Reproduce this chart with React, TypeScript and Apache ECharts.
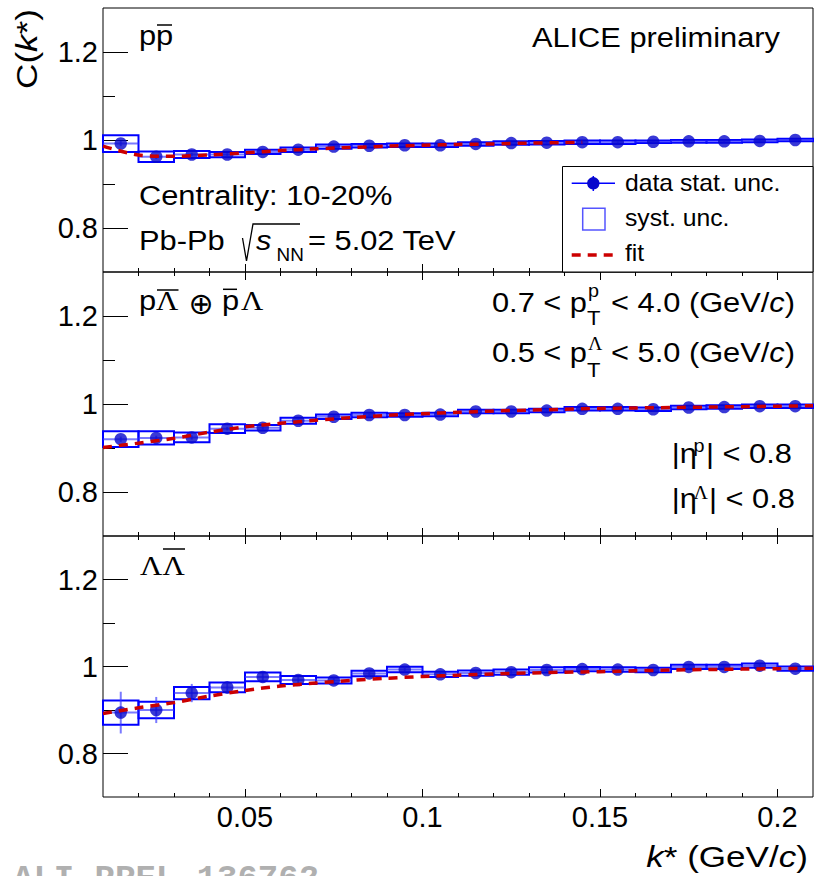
import React, { useEffect, useRef } from "react";
import * as echarts from "echarts";

// ---------------- data ----------------
const kCenters = [0.015, 0.025, 0.035, 0.045, 0.055, 0.065, 0.075, 0.085, 0.095, 0.105, 0.115, 0.125, 0.135, 0.145, 0.155, 0.165, 0.175, 0.185, 0.195, 0.205];
const binHalfWidth = 0.005;

// p-pbar
const ppValues = [0.992, 0.962, 0.967, 0.967, 0.973, 0.978, 0.985, 0.987, 0.988, 0.988, 0.991, 0.993, 0.994, 0.995, 0.995, 0.996, 0.997, 0.997, 0.998, 1.0];
const ppStat = [0.006, 0.005, 0.004, 0.003, 0.003, 0.003, 0.003, 0.003, 0.002, 0.002, 0.002, 0.002, 0.002, 0.002, 0.002, 0.002, 0.002, 0.002, 0.002, 0.002];
const ppSyst = [0.019, 0.012, 0.008, 0.006, 0.005, 0.005, 0.005, 0.004, 0.004, 0.004, 0.004, 0.004, 0.004, 0.004, 0.004, 0.003, 0.003, 0.003, 0.003, 0.003];
const ppFitK = [0.01, 0.02, 0.03, 0.04, 0.05, 0.06, 0.07, 0.08, 0.09, 0.1, 0.11, 0.12, 0.13, 0.14, 0.145];
const ppFit = [0.986, 0.966, 0.963, 0.966, 0.971, 0.976, 0.98, 0.983, 0.986, 0.988, 0.99, 0.991, 0.993, 0.994, 0.995];

// p-Lambdabar + pbar-Lambda
const plValues = [0.92, 0.923, 0.924, 0.944, 0.946, 0.962, 0.971, 0.975, 0.975, 0.976, 0.983, 0.983, 0.985, 0.989, 0.989, 0.988, 0.992, 0.993, 0.995, 0.995];
const plStat = [0.006, 0.005, 0.005, 0.004, 0.004, 0.003, 0.003, 0.003, 0.003, 0.003, 0.003, 0.003, 0.003, 0.003, 0.003, 0.003, 0.003, 0.003, 0.003, 0.003];
const plSyst = [0.018, 0.015, 0.011, 0.01, 0.0065, 0.007, 0.005, 0.005, 0.004, 0.004, 0.004, 0.004, 0.004, 0.004, 0.004, 0.004, 0.004, 0.004, 0.004, 0.004];
const fitK = [0.01, 0.02, 0.03, 0.04, 0.05, 0.06, 0.07, 0.08, 0.09, 0.1, 0.11, 0.12, 0.13, 0.14, 0.15, 0.16, 0.17, 0.18, 0.19, 0.2, 0.21];
const plFit = [0.901, 0.911, 0.922, 0.936, 0.948, 0.956, 0.963, 0.969, 0.974, 0.978, 0.981, 0.984, 0.986, 0.988, 0.99, 0.991, 0.992, 0.993, 0.994, 0.995, 0.996];

// Lambda-Lambdabar
const llValues = [0.894, 0.9, 0.939, 0.952, 0.976, 0.969, 0.968, 0.984, 0.993, 0.982, 0.985, 0.987, 0.992, 0.994, 0.993, 0.992, 0.999, 0.999, 1.002, 0.995];
const llStat = [0.048, 0.03, 0.021, 0.014, 0.009, 0.008, 0.008, 0.007, 0.007, 0.006, 0.006, 0.006, 0.005, 0.005, 0.005, 0.005, 0.005, 0.005, 0.005, 0.005];
const llSyst = [0.028, 0.019, 0.014, 0.011, 0.01, 0.009, 0.007, 0.0065, 0.0065, 0.006, 0.006, 0.006, 0.006, 0.005, 0.005, 0.005, 0.005, 0.005, 0.005, 0.005];
const llFit = [0.892, 0.905, 0.917, 0.932, 0.945, 0.955, 0.962, 0.968, 0.973, 0.977, 0.98, 0.983, 0.985, 0.987, 0.988, 0.99, 0.992, 0.993, 0.994, 0.995, 0.996];

// ticks
const xMajorTicks = [0.05, 0.1, 0.15, 0.2];
const xMinorTicks = [0.02, 0.03, 0.04, 0.06, 0.07, 0.08, 0.09, 0.11, 0.12, 0.13, 0.14, 0.16, 0.17, 0.18, 0.19];
const yMajorTicks = [0.8, 1, 1.2];
const yMinorTicks = [0.9, 1.1];
const xRange = [0.01, 0.21];
const yRange = [0.7, 1.3];

// ---------------- styling ----------------
const FONT = "Liberation Sans";
const SERIF = "Liberation Serif";
const SX = 1.1;
const BLUE = "#0000ff";
const MARKER = "#0808cc";
const STATC = "rgba(50,50,255,0.65)";
const RED = "#cc0000";

function txt(x: number, y: number, text: string, o: any = {}) {
  return {
    type: "text",
    x,
    y,
    scaleX: o.scaleX ?? SX,
    rotation: o.rotation ?? 0,
    silent: true,
    z: 100,
    style: {
      text,
      fontSize: o.fontSize ?? 28,
      fontFamily: o.fontFamily ?? FONT,
      fontStyle: o.fontStyle ?? "normal",
      fontWeight: o.fontWeight ?? "normal",
      fill: o.fill ?? "#000",
      align: o.align ?? "left",
      verticalAlign: "middle",
      rich: o.rich,
    },
  };
}
function ln(x1: number, y1: number, x2: number, y2: number, stroke = "#000", lineWidth = 1.5, lineDash?: number[]) {
  return { type: "line", silent: true, z: 100, shape: { x1, y1, x2, y2 }, style: { stroke, lineWidth, lineDash } };
}

function richItalic(size: number) {
  return {
    n: { fontSize: size, fontFamily: FONT, fontStyle: "normal", fill: "#000" },
    i: { fontSize: size, fontFamily: FONT, fontStyle: "italic", fill: "#000" },
  };
}

function buildOption() {
  const panels = [
    { values: ppValues, stat: ppStat, syst: ppSyst, fk: ppFitK, fit: ppFit, top: 8, height: 264, topTicks: false, labels: false },
    { values: plValues, stat: plStat, syst: plSyst, fk: fitK, fit: plFit, top: 272, height: 264, topTicks: true, labels: false },
    { values: llValues, stat: llStat, syst: llSyst, fk: fitK, fit: llFit, top: 536, height: 261, topTicks: true, labels: true },
  ];
  const grids: any[] = [];
  const xAxes: any[] = [];
  const yAxes: any[] = [];
  const series: any[] = [];

  const makeX = (g: number, position: string, ticks: number[], length: number, labels: boolean) => ({
    type: "value",
    gridIndex: g,
    position,
    min: xRange[0],
    max: xRange[1],
    axisLine: { show: false },
    splitLine: { show: false },
    axisTick: { show: true, inside: true, length, customValues: ticks, lineStyle: { color: "#000", width: 1 } },
    axisLabel: { show: labels, customValues: xMajorTicks, fontSize: 29, fontFamily: FONT, color: "#000", margin: 5 },
  });
  const makeY = (g: number, ticks: number[], length: number, labels: boolean) => ({
    type: "value",
    gridIndex: g,
    position: "left",
    min: yRange[0],
    max: yRange[1],
    axisLine: { show: false },
    splitLine: { show: false },
    axisTick: { show: true, inside: true, length, customValues: ticks, lineStyle: { color: "#000", width: 1 } },
    axisLabel: { show: labels, customValues: yMajorTicks, fontSize: 29, fontFamily: FONT, color: "#000", margin: 5 },
  });

  panels.forEach((p, g) => {
    grids.push({ left: 103, width: 710, top: p.top, height: p.height, show: true, borderColor: "#000", borderWidth: 1, backgroundColor: "transparent" });
    const xi = xAxes.length;
    xAxes.push(makeX(g, "bottom", xMajorTicks, 8, p.labels));
    xAxes.push(makeX(g, "bottom", xMinorTicks, 4, false));
    if (p.topTicks) {
      xAxes.push(makeX(g, "top", xMajorTicks, 8, false));
      xAxes.push(makeX(g, "top", xMinorTicks, 4, false));
    }
    const yi = yAxes.length;
    yAxes.push(makeY(g, yMajorTicks, 25, true));
    yAxes.push(makeY(g, yMinorTicks, 12, false));

    series.push({
      type: "custom",
      xAxisIndex: xi,
      yAxisIndex: yi,
      z: 2,
      data: kCenters.map((k, i) => [k, p.values[i], p.syst[i]]),
      encode: { x: 0, y: 1 },
      renderItem: (_params: any, api: any) => {
        const x = api.value(0), y = api.value(1), h = api.value(2);
        const a = api.coord([x - binHalfWidth, y + h]);
        const b = api.coord([x + binHalfWidth, y - h]);
        return {
          type: "rect",
          shape: { x: a[0], y: a[1], width: b[0] - a[0], height: b[1] - a[1] },
          style: { fill: "none", stroke: BLUE, lineWidth: 2 },
        };
      },
    });
    series.push({
      type: "custom",
      xAxisIndex: xi,
      yAxisIndex: yi,
      z: 3,
      data: kCenters.map((k, i) => [k, p.values[i], p.stat[i]]),
      encode: { x: 0, y: 1 },
      renderItem: (_params: any, api: any) => {
        const x = api.value(0), y = api.value(1), e = api.value(2);
        const top = api.coord([x, y + e]);
        const bot = api.coord([x, y - e]);
        const l = api.coord([x - binHalfWidth, y]);
        const r = api.coord([x + binHalfWidth, y]);
        return {
          type: "group",
          children: [
            { type: "line", shape: { x1: top[0], y1: top[1], x2: bot[0], y2: bot[1] }, style: { stroke: STATC, lineWidth: 2 } },
            { type: "line", shape: { x1: l[0], y1: l[1], x2: r[0], y2: r[1] }, style: { stroke: STATC, lineWidth: 2 } },
          ],
        };
      },
    });
    series.push({
      type: "scatter",
      xAxisIndex: xi,
      yAxisIndex: yi,
      z: 4,
      symbol: "circle",
      symbolSize: 12.5,
      itemStyle: { color: MARKER },
      data: kCenters.map((k, i) => [k, p.values[i]]),
    });
    series.push({
      type: "line",
      xAxisIndex: xi,
      yAxisIndex: yi,
      z: 5,
      smooth: 0.3,
      showSymbol: false,
      symbol: "none",
      lineStyle: { color: RED, width: 3.5, type: [9, 7] },
      data: p.fk.map((k, i) => [k, p.fit[i]]),
    });
  });

  const els: any[] = [];
  // axis titles
  els.push(txt(26, 9, "{n|C(}{i|k}{n|*)}", { rotation: Math.PI / 2, align: "right", fontSize: 30, scaleX: 1.17, rich: richItalic(30) }));
  els.push(txt(808, 856, "{i|k}{n|* (GeV/}{i|c}{n|)}", { align: "right", fontSize: 30, scaleX: 1.17, rich: richItalic(30) }));

  // top panel
  els.push(txt(139, 35, "pp"));
  els.push(ln(157, 25, 172, 25));
  els.push(txt(780, 36.7, "ALICE preliminary", { align: "right" }));
  els.push(txt(139, 195, "Centrality: 10-20%"));
  els.push(txt(139, 240, "Pb-Pb"));
  els.push({
    type: "polyline",
    silent: true,
    z: 100,
    shape: { points: [[242.5, 238], [246.5, 261], [253, 224], [300, 224]] },
    style: { stroke: "#000", lineWidth: 1.3, fill: "none" },
  });
  els.push(txt(256, 240, "s", { fontStyle: "italic" }));
  els.push(txt(276.5, 255, "NN", { fontSize: 18, scaleX: 1.05 }));
  els.push(txt(308, 240, "= 5.02 TeV"));

  // legend
  els.push({ type: "rect", silent: true, z: 90, shape: { x: 562.5, y: 166.5, width: 250.5, height: 105.5 }, style: { fill: "#fff", stroke: "#000", lineWidth: 1 } });
  els.push(ln(571.7, 183.3, 615, 183.3, BLUE, 1.5));
  els.push(ln(593.3, 176, 593.3, 191, BLUE, 1.5));
  els.push({ type: "circle", silent: true, z: 100, shape: { cx: 593.3, cy: 183.3, r: 6.2 }, style: { fill: MARKER } });
  els.push(txt(625, 182.5, "data stat. unc.", { fontSize: 24, scaleX: 1.03 }));
  els.push({ type: "rect", silent: true, z: 100, shape: { x: 582.7, y: 208.3, width: 22.3, height: 21.7 }, style: { fill: "none", stroke: "#5555ff", lineWidth: 1.5 } });
  els.push(txt(625, 218, "syst. unc.", { fontSize: 24, scaleX: 1.03 }));
  els.push(ln(571.7, 255, 615, 255, RED, 3.5, [9, 7]));
  els.push(txt(625, 253, "fit", { fontSize: 24, scaleX: 1.03 }));

  // middle panel
  els.push(txt(139, 300, "p"));
  els.push(txt(156, 300, "Λ", { fontFamily: SERIF }));
  els.push(ln(157, 290, 178.5, 290));
  els.push(txt(188.5, 303.5, "⊕", { fontFamily: "DejaVu Sans", fontSize: 30, scaleX: 1 }));
  els.push(txt(222, 300, "p"));
  els.push(ln(223, 289.3, 237, 289.3));
  els.push(txt(241, 300, "Λ", { fontFamily: SERIF }));

  els.push(txt(587, 301.7, "0.7 < p", { align: "right" }));
  els.push(txt(588, 291, "p", { fontSize: 18 }));
  els.push(txt(587, 317.5, "T", { fontSize: 20 }));
  els.push(txt(611, 301.7, "{n|< 4.0 (GeV/}{i|c}{n|)}", { rich: richItalic(28) }));
  els.push(txt(587, 351.7, "0.5 < p", { align: "right" }));
  els.push(txt(588, 344, "Λ", { fontSize: 18, fontFamily: SERIF }));
  els.push(txt(587, 370, "T", { fontSize: 20 }));
  els.push(txt(611, 351.7, "{n|< 5.0 (GeV/}{i|c}{n|)}", { rich: richItalic(28) }));

  els.push(txt(671.7, 453.3, "|η"));
  els.push(txt(693.5, 446.3, "p", { fontSize: 18 }));
  els.push(txt(706, 453.3, "| < 0.8"));
  els.push(txt(671.7, 498.3, "|η"));
  els.push(txt(693.5, 492.7, "Λ", { fontSize: 18, fontFamily: SERIF }));
  els.push(txt(709, 498.3, "| < 0.8"));

  // bottom panel
  els.push(txt(140, 565, "Λ", { fontFamily: SERIF }));
  els.push(txt(162.5, 565, "Λ", { fontFamily: SERIF }));
  els.push(ln(163, 549, 185, 549));

  // watermark (cut by the bottom edge, as in the reference)
  els.push(txt(13, 879, "ALI-PREL-136762", { fontFamily: "Liberation Mono", fontWeight: "bold", fontSize: 34, scaleX: 1, fill: "#b0b0b0" }));

  return {
    animation: false,
    backgroundColor: "#fff",
    textStyle: { fontFamily: FONT },
    grid: grids,
    xAxis: xAxes,
    yAxis: yAxes,
    series,
    graphic: { elements: els },
  };
}

export default function App() {
  const ref = useRef<HTMLDivElement>(null);
  useEffect(() => {
    if (!ref.current) return;
    const chart = echarts.init(ref.current, undefined, { renderer: "svg" });
    chart.setOption(buildOption() as any);
    return () => chart.dispose();
  }, []);
  return <div ref={ref} style={{ position: "absolute", left: 0, top: 0, width: 816, height: 876 }} />;
}
